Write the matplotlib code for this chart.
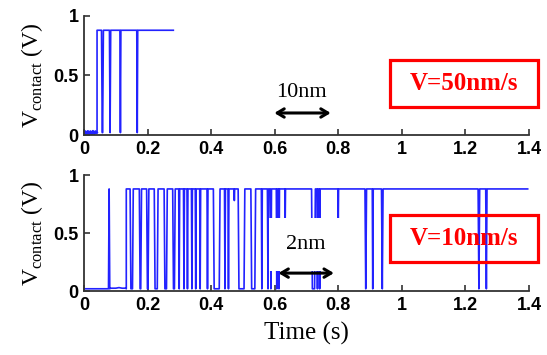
import matplotlib
matplotlib.use("Agg")
import matplotlib.pyplot as plt
from matplotlib.patches import Rectangle
import numpy as np

# ---- data ----
xticks = [0, 0.2, 0.4, 0.6, 0.8, 1.0, 1.2, 1.4]
xtick_labels = ["0", "0.2", "0.4", "0.6", "0.8", "1", "1.2", "1.4"]
yticks = [0, 0.5, 1]
ytick_labels = ["0", "0.5", "1"]

high_level = 0.88
low_level = 0.02

# V = 50 nm/s
top_low_t = [0.0, 0.004, 0.008, 0.012, 0.016, 0.020, 0.024, 0.028, 0.032, 0.036, 0.040]
top_low_v = [0.01, 0.03, 0.005, 0.032, 0.008, 0.03, 0.006, 0.033, 0.01, 0.03, 0.02]
top_start, top_end = 0.041, 0.281
top_dips = [(0.055, 0.061, 0.02), (0.080, 0.084, 0.02), (0.113, 0.116, 0.02),
            (0.166, 0.169, 0.02)]

# V = 10 nm/s
bot_low_t = [0.0, 0.077, 0.079, 0.081, 0.084, 0.100, 0.110, 0.120, 0.131]
bot_low_v = [0.02, 0.02, 0.88, 0.02, 0.025, 0.025, 0.03, 0.025, 0.025]
bot_start, bot_end = 0.133, 1.396
bot_dips = [
    (0.145, 0.155, 0.02), (0.174, 0.181, 0.02), (0.197, 0.204, 0.02),
    (0.221, 0.233, 0.02), (0.252, 0.262, 0.02), (0.279, 0.287, 0.02),
    (0.298, 0.301, 0.02), (0.313, 0.316, 0.02), (0.324, 0.327, 0.02),
    (0.338, 0.341, 0.02), (0.350, 0.353, 0.02), (0.364, 0.367, 0.02),
    (0.387, 0.390, 0.02), (0.407, 0.428, 0.02), (0.442, 0.445, 0.02),
    (0.453, 0.456, 0.02), (0.472, 0.474, 0.78), (0.485, 0.506, 0.02),
    (0.525, 0.540, 0.02), (0.558, 0.561, 0.02), (0.577, 0.581, 0.02),
    (0.586, 0.590, 0.02), (0.605, 0.608, 0.02), (0.612, 0.615, 0.02),
    (0.632, 0.634, 0.60), (0.716, 0.728, 0.02), (0.733, 0.736, 0.02),
    (0.740, 0.743, 0.02), (0.799, 0.801, 0.60), (0.884, 0.889, 0.02),
    (0.907, 0.910, 0.02), (0.936, 0.941, 0.02), (1.240, 1.245, 0.02),
    (1.264, 1.268, 0.02),
]


def step_trace(start, end, high, dips, ramp=0.0025):
    xs, ys = [start, start], [low_level, high]
    for s, e, lo in dips:
        if e - s > 2 * ramp:
            xs += [s, s + ramp, e - ramp, e]
            ys += [high, lo, lo, high]
        else:
            xs += [s, (s + e) / 2, e]
            ys += [high, lo, high]
    xs.append(end)
    ys.append(high)
    return np.array(xs), np.array(ys)


plt.rcParams["mathtext.fontset"] = "custom"
plt.rcParams["mathtext.rm"] = "Liberation Serif"
serif = "Liberation Serif"
sans = "Liberation Sans"
blue = "#2222ff"
red = "#ff0000"

fig = plt.figure(figsize=(5.47, 3.55), dpi=100)
ax1 = fig.add_axes([0.1536, 0.6197, 0.8134, 0.3353])
ax2 = fig.add_axes([0.1536, 0.1800, 0.8134, 0.3270])

tx, ty = step_trace(top_start, top_end, high_level, top_dips)
ax1.plot(top_low_t, top_low_v, color=blue, lw=1.8)
ax1.plot(tx, ty, color=blue, lw=1.2)

bx, by = step_trace(bot_start, bot_end, high_level, bot_dips)
ax2.plot(bot_low_t, bot_low_v, color=blue, lw=1.2)
ax2.plot(np.r_[bot_low_t[-1], bx], np.r_[bot_low_v[-1], by], color=blue, lw=1.2)

for ax in (ax1, ax2):
    ax.set_xlim(0, 1.4)
    ax.set_ylim(0, 1)
    ax.spines["top"].set_visible(False)
    ax.spines["right"].set_visible(False)
    for sp in ("left", "bottom"):
        ax.spines[sp].set_color("#333333")
        ax.spines[sp].set_linewidth(1.3)
    ax.set_xticks(xticks)
    ax.set_xticklabels(xtick_labels, fontfamily=sans, fontweight="bold", fontsize=13)
    ax.set_yticks(yticks)
    ax.set_yticklabels(ytick_labels, fontfamily=sans, fontweight="bold", fontsize=13)
    ax.tick_params(direction="in", length=4, width=1.2, color="#333333", pad=4)
    ax.set_ylabel(r"V$_{\mathrm{contact}}$ (V)", fontfamily=serif, fontsize=17, labelpad=6)

ax2.set_xlabel("Time (s)", fontfamily=serif, fontsize=18, labelpad=6)

# scale annotations
ax1.text(0.685, 0.36, "10nm", fontfamily=serif, fontsize=16, ha="center", va="center")
ax1.annotate("", xy=(0.785, 0.185), xytext=(0.59, 0.185),
             arrowprops=dict(arrowstyle="<->,head_length=0.5,head_width=0.3", lw=2.2, color="k"))
ax2.text(0.697, 0.40, "2nm", fontfamily=serif, fontsize=16, ha="center", va="center",
         zorder=5, bbox=dict(boxstyle="square,pad=0.75", fc="white", ec="none"))
ax2.annotate("", xy=(0.795, 0.155), xytext=(0.603, 0.155), zorder=6,
             arrowprops=dict(arrowstyle="<->,head_length=0.5,head_width=0.3", lw=2.2, color="k"))

# speed boxes
for yc, label in ((0.765, "V=50nm/s"), (0.328, "V=10nm/s")):
    w, h = 148 / 547, 47 / 355
    fig.patches.append(Rectangle((0.848 - w / 2, yc - h / 2), w, h, transform=fig.transFigure,
                                 fill=False, ec=red, lw=2.3, zorder=10))
    fig.text(0.848, yc, label, color=red, fontfamily=serif, fontweight="bold",
             fontsize=18, ha="center", va="center")

fig.savefig("out.png", dpi=100)
